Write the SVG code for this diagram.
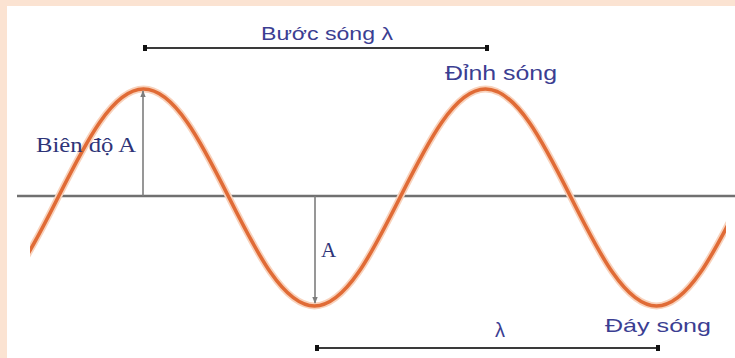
<svg xmlns="http://www.w3.org/2000/svg" width="735" height="358" viewBox="0 0 735 358">
<style>
.sans{font-family:"Liberation Sans","DejaVu Sans",sans-serif;fill:#3b3e92}
.serif{font-family:"Liberation Serif","DejaVu Serif",serif;fill:#2e3478}
.dim{stroke:#3a3a3a;stroke-width:2;fill:none}
.arr{stroke:#7d7d7d;stroke-width:1.6;fill:none}
</style>
<defs>
<clipPath id="waveClip"><rect x="30" y="0" width="696" height="358"/></clipPath>
<path id="wavePath" d="M -27.5 306 C 3.3 306 30.12 253.08 58 197.5 S 112.7 89 143.5 89 S 201.12 141.92 229 197.5 S 283.7 306 314.5 306 S 372.12 253.08 400 197.5 S 454.7 89 485.5 89 S 543.12 141.92 571 197.5 S 625.7 306 656.5 306 S 714.12 253.08 742 197.5" fill="none"/>
<marker id="ah" viewBox="0 0 10 10" refX="9" refY="5" markerWidth="7" markerHeight="7" orient="auto" markerUnits="userSpaceOnUse"><path d="M0,1 L10,5 L0,9 Z" fill="#7d7d7d"/></marker>
<marker id="tick" viewBox="0 0 4 6" refX="2" refY="3" markerWidth="4" markerHeight="6" orient="auto" markerUnits="userSpaceOnUse"><rect x="0" y="0" width="4" height="6" fill="#111"/></marker>
</defs>
<rect x="0" y="0" width="735" height="358" fill="#fbe3d2"/>
<rect x="7" y="6" width="728" height="352" fill="#ffffff"/>
<g id="axis"><line x1="17" y1="196" x2="735" y2="196" stroke="#707070" stroke-width="2.5"/></g>
<g id="wave" clip-path="url(#waveClip)">
<use href="#wavePath" stroke="#f8d2bc" stroke-width="7"/>
<use href="#wavePath" stroke="#e06b36" stroke-width="3.6"/>
</g>
<g id="connectors">
<line class="arr" x1="143" y1="196" x2="143" y2="91" marker-end="url(#ah)"/>
<line class="arr" x1="315" y1="196" x2="315" y2="303" marker-end="url(#ah)"/>
<line class="dim" x1="145" y1="48" x2="487" y2="48" marker-start="url(#tick)" marker-end="url(#tick)"/>
<line class="dim" x1="317" y1="348" x2="658" y2="348" marker-start="url(#tick)" marker-end="url(#tick)"/>
</g>
<g id="label-buoc-song"><text class="sans" x="261" y="40" font-size="19" textLength="132" lengthAdjust="spacingAndGlyphs">Bước sóng λ</text></g>
<g id="label-dinh-song"><text class="sans" x="445" y="80" font-size="20" textLength="112" lengthAdjust="spacingAndGlyphs">Đỉnh sóng</text></g>
<g id="label-bien-do"><text class="serif" x="36" y="152" font-size="21" textLength="100" lengthAdjust="spacingAndGlyphs">Biên độ A</text></g>
<g id="label-a"><text class="serif" x="321" y="257" font-size="21">A</text></g>
<g id="label-lambda"><text class="sans" x="495" y="337" font-size="20">λ</text></g>
<g id="label-day-song"><text class="sans" x="605" y="332" font-size="19" textLength="106" lengthAdjust="spacingAndGlyphs">Đáy sóng</text></g>
</svg>
